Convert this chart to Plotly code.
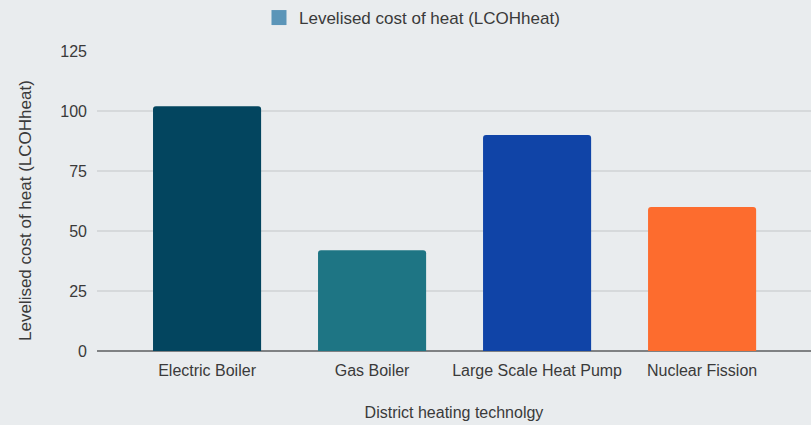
import plotly.graph_objects as go

technologies = ["Electric Boiler", "Gas Boiler", "Large Scale Heat Pump", "Nuclear Fission"]
lcoh_values = [102, 42, 90, 60]
bar_colors = ["#03455f", "#1e7584", "#1044a7", "#fd6c2e"]
y_ticks = [0, 25, 50, 75, 100, 125]
series_name = "Levelised cost of heat (LCOHheat)"
x_title = "District heating technolgy"
legend_color = "#5b95b8"

font_family = "Liberation Sans, Arial, sans-serif"
text_color = "#3a3a3a"
bg = "#e9ecee"
fs = 16

fig = go.Figure()
fig.add_trace(go.Bar(
    x=technologies,
    y=lcoh_values,
    marker=dict(color=bar_colors, line=dict(width=0)),
    width=0.655,
    showlegend=False,
    name=series_name,
))
# legend entry carrying the series colour
fig.add_trace(go.Scatter(
    x=[None], y=[None],
    mode="markers",
    marker=dict(color=legend_color, symbol="square", size=15),
    name=series_name,
    showlegend=True,
))

# vertical axis title, placed a little below the plot's mid-height
fig.add_annotation(
    text=series_name, textangle=-90,
    xref="paper", yref="paper", x=0, y=0.5,
    xanchor="center", yanchor="middle",
    xshift=-72, yshift=-10,
    showarrow=False,
    font=dict(size=17, color=text_color),
)

fig.update_layout(
    width=811, height=425,
    margin=dict(l=97, r=0, t=51, b=74),
    paper_bgcolor=bg, plot_bgcolor=bg,
    font=dict(family=font_family, size=fs, color=text_color),
    barmode="overlay",
    barcornerradius=3,
    legend=dict(
        orientation="h", x=0.508, xanchor="center", y=1.0, yanchor="top",
        xref="container", yref="container",
        font=dict(size=17, color=text_color),
        bgcolor="rgba(0,0,0,0)",
    ),
    xaxis=dict(
        range=[-0.667, 3.66],
        showgrid=False,
        showline=False,
        ticks="",
        ticklabelstandoff=8,
        tickfont=dict(size=fs, color=text_color),
        title=dict(text=x_title, font=dict(size=fs, color=text_color), standoff=28),
    ),
    yaxis=dict(
        range=[0, 125],
        tickvals=y_ticks,
        showgrid=True, gridcolor="#d6d9db", gridwidth=1.5,
        zeroline=True, zerolinecolor="#7f8183", zerolinewidth=1.5,
        showline=False,
        ticks="",
        ticklabelstandoff=9,
        tickfont=dict(size=fs, color=text_color),
    ),
)

fig.write_html("out.html")
